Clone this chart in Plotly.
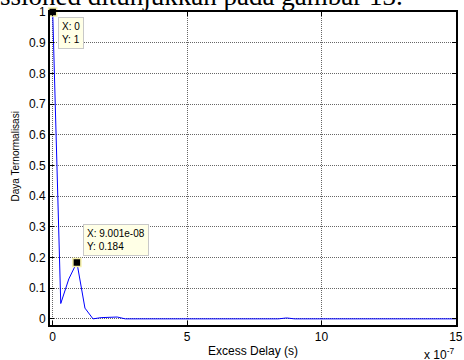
import plotly.graph_objects as go

# Excess delay in units of 1e-7 s
delay = [0, 0.3, 0.6, 0.9001, 1.2, 1.5, 1.8, 2.1, 2.4, 2.7, 3.0, 3.3, 3.6, 3.9, 4.2, 4.5,
         4.8, 5.1, 5.4, 5.7, 6.0, 6.3, 6.6, 6.9, 7.2, 7.5, 7.8, 8.1, 8.4, 8.7, 9.0, 9.3,
         9.6, 9.9, 10.2, 10.5, 10.8, 11.1, 11.4, 11.7, 12.0, 12.3, 12.6, 12.9, 13.2, 13.5,
         13.8, 14.1, 14.4, 14.7, 15.0]
power = [1.0, 0.05, 0.13, 0.184, 0.035, 0.0, 0.004, 0.006, 0.006, 0.0, 0.0, 0.0, 0.0, 0.0,
         0.0, 0.0, 0.0, 0.0, 0.0, 0.0, 0.0, 0.0, 0.0, 0.0, 0.0, 0.0, 0.0, 0.0, 0.0, 0.003,
         0.0, 0.0, 0.0, 0.0, 0.0, 0.0, 0.0, 0.0, 0.0, 0.0, 0.0, 0.0, 0.0, 0.0, 0.0, 0.0,
         0.0, 0.0, 0.0, 0.0, 0.0]

tip_x = [0, 0.9001]
tip_y = [1, 0.184]
tip_text = ["X: 0<br>Y: 1", "X: 9.001e-08<br>Y: 0.184"]

x_ticks = [0, 5, 10, 15]
y_ticks = [0, 0.1, 0.2, 0.3, 0.4, 0.5, 0.6, 0.7, 0.8, 0.9, 1]
y_labels = ["0", "0.1", "0.2", "0.3", "0.4", "0.5", "0.6", "0.7", "0.8", "0.9", "1"]

fig = go.Figure()
fig.add_trace(go.Scatter(x=delay, y=power, mode="lines",
                         line=dict(color="#0000ff", width=1), showlegend=False))
fig.add_trace(go.Scatter(x=tip_x, y=tip_y, mode="markers",
                         marker=dict(symbol="square", size=8, color="black",
                                     line=dict(color="#f5f0a8", width=1.5)),
                         showlegend=False, cliponaxis=False))

font = "Liberation Sans, Arial, sans-serif"
grid = dict(showgrid=True, gridcolor="#666666", griddash="1px,1px", gridwidth=1,
            showline=True, linecolor="black", linewidth=2, mirror="ticks",
            ticks="inside", ticklen=4, tickcolor="black", zeroline=False,
            tickfont=dict(size=12), ticklabeloverflow="allow")
fig.update_layout(
    width=464, height=360,
    margin=dict(l=50, r=1, t=12, b=35),
    paper_bgcolor="white", plot_bgcolor="white",
    font=dict(family=font, size=12, color="black"),
    xaxis=dict(range=[-0.1, 15.005], tickvals=x_ticks, ticktext=[str(v) for v in x_ticks],
               title=dict(text="Excess Delay (s)", font=dict(size=12), standoff=3), **grid),
    yaxis=dict(range=[-0.02, 1], tickvals=y_ticks, ticktext=y_labels, **grid),
)

fig.add_annotation(x=0, xref="paper", xshift=-43,
                   y=(360 - 35 - 157) / (360 - 12 - 35), yref="paper",
                   text="Daya Ternormalisasi", showarrow=False, textangle=-90,
                   font=dict(size=10, family=font))

tip_shifts = [(5, -4.5), (6, 38.5)]
for tx, ty, tt, (dx, dy) in zip(tip_x, tip_y, tip_text, tip_shifts):
    fig.add_annotation(x=tx, y=ty, xref="x", yref="y", text=tt, showarrow=False,
                       xanchor="left", yanchor="top", align="left",
                       xshift=dx, yshift=dy,
                       font=dict(size=10, family=font, color="black"),
                       bgcolor="#ffffe6", bordercolor="#c8c8c8", borderwidth=1,
                       borderpad=3)

fig.add_annotation(x=1.0, y=0, xref="paper", yref="paper", yshift=-19, xshift=0,
                   text="x 10<sup>-7</sup>", showarrow=False, xanchor="right",
                   yanchor="top", font=dict(size=12, family=font))

fig.add_annotation(x=0, y=1, xref="paper", yref="paper", xshift=-52, yshift=16,
                   text="ssioned ditunjukkan pada gambar 13.", showarrow=False,
                   xanchor="left", yanchor="middle",
                   font=dict(size=27, family="Liberation Serif, Times New Roman, serif"))

fig.write_html("out.html", config={"displayModeBar": False},
               post_script="document.body.style.margin='0';"
               "document.body.style.overflow='hidden';")
